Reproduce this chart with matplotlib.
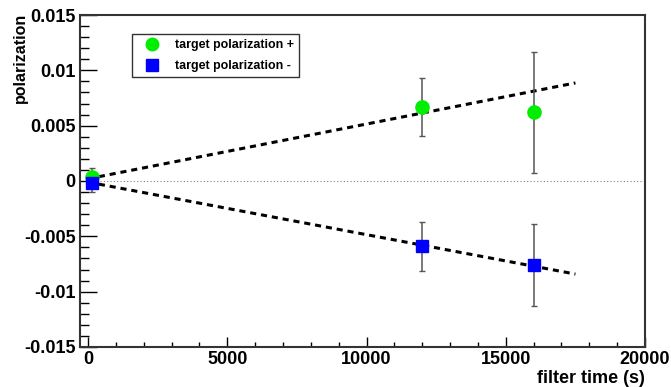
import numpy as np
import matplotlib.pyplot as plt
from matplotlib.ticker import MultipleLocator, FuncFormatter

# filter time (s)
times = [150, 12000, 16000]

# target polarization +
pol_plus = [0.0004, 0.0067, 0.0062]
err_plus = [0.0008, 0.0026, 0.0055]

# target polarization -
pol_minus = [-0.0002, -0.0059, -0.0076]
err_minus = [0.0008, 0.0022, 0.0037]

# linear fits (intercept, slope) and fit range
fit_plus = (0.0002, 4.95e-7)
fit_minus = (-0.0001, -4.75e-7)
fit_range = [0, 17500]

plt.rcParams['font.family'] = ['Liberation Sans', 'DejaVu Sans']
plt.rcParams['font.weight'] = 'bold'

fig = plt.figure(figsize=(6.71, 3.87), dpi=100)
ax = fig.add_axes([0.1192, 0.1034, 0.8421, 0.8578])

ax.axhline(0, color='gray', lw=0.8, ls=(0, (1, 2)), zorder=1)

xf = np.array(fit_range)
ax.plot(xf, fit_plus[0] + fit_plus[1] * xf, color='black', lw=2.2, ls=(0, (2, 1.6)), zorder=2)
ax.plot(xf, fit_minus[0] + fit_minus[1] * xf, color='black', lw=2.2, ls=(0, (2, 1.6)), zorder=2)

eb_plus = ax.errorbar(times, pol_plus, yerr=err_plus, fmt='o', color='#00ee00', ms=9.5,
                      ecolor='#555555', elinewidth=1.1, capsize=2, capthick=1, zorder=3,
                      label='target polarization +')
eb_minus = ax.errorbar(times, pol_minus, yerr=err_minus, fmt='s', color='#0000ff', ms=9,
                       ecolor='#555555', elinewidth=1.1, capsize=2, capthick=1, zorder=3,
                       label='target polarization -')

ax.set_xlim(-290, 20000)
ax.set_ylim(-0.015, 0.015)

ax.xaxis.set_major_locator(MultipleLocator(5000))
ax.xaxis.set_minor_locator(MultipleLocator(1000))
ax.yaxis.set_major_locator(MultipleLocator(0.005))
ax.yaxis.set_minor_locator(MultipleLocator(0.001))
ax.yaxis.set_major_formatter(FuncFormatter(lambda v, p: '0' if abs(v) < 1e-9 else ('%g' % v)))

ax.tick_params(which='both', direction='in', top=False, right=False, labelsize=13, width=1)
ax.tick_params(axis='y', which='major', length=12, pad=3)
ax.tick_params(axis='y', which='minor', length=6.5)
ax.tick_params(axis='x', which='major', length=7, pad=3)
ax.tick_params(axis='x', which='minor', length=3.5)
for lbl in ax.get_xticklabels() + ax.get_yticklabels():
    lbl.set_fontweight('bold')

for s in ax.spines.values():
    s.set_linewidth(1.5)
    s.set_color('#333333')

ax.set_xlabel('filter time (s)', fontsize=13, fontweight='bold', loc='right', labelpad=1)
ax.set_ylabel('polarization', fontsize=11.5, fontweight='bold', loc='top')
ax.yaxis.label.set_va('center')
ax.yaxis.set_label_coords(-0.106, 1.006)

# only the markers in the legend, no error bars
leg = ax.legend([eb_plus[0], eb_minus[0]], ['target polarization +', 'target polarization -'],
                loc='upper left', bbox_to_anchor=(0.092, 0.943), fontsize=8.9, frameon=True,
                fancybox=False, shadow=False, handlelength=2.4, handletextpad=0.7,
                borderpad=0.4, labelspacing=0.76, numpoints=1, markerscale=0.95,
                borderaxespad=0)
leg.get_frame().set_edgecolor('black')
leg.get_frame().set_linewidth(1.0)
for t in leg.get_texts():
    t.set_fontweight('bold')

fig.savefig('out.png', dpi=100)
